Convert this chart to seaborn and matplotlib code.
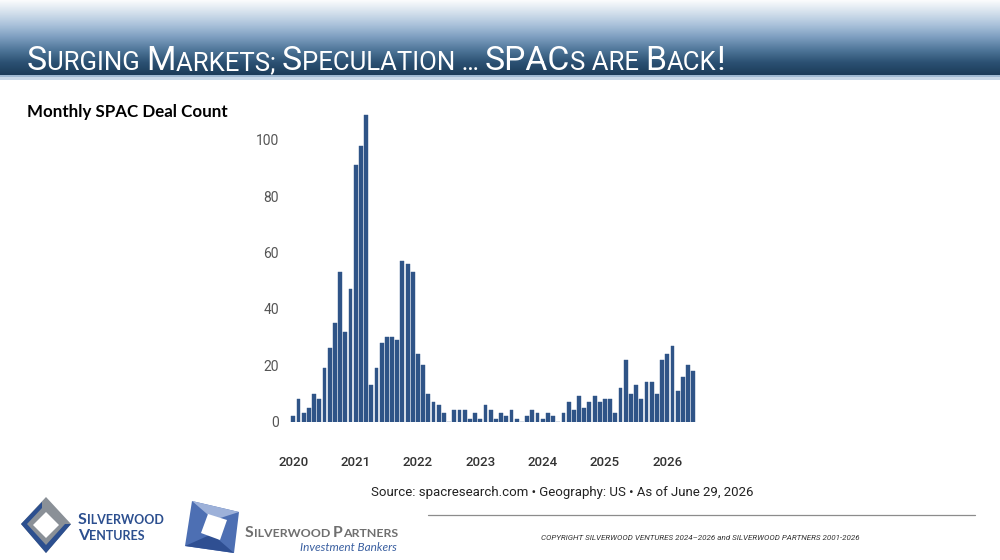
import numpy as np
import pandas as pd
import matplotlib
matplotlib.use("Agg")
import matplotlib.pyplot as plt
import seaborn as sns
from matplotlib.patches import Polygon, Rectangle

# Monthly SPAC deal counts, Jan 2020 .. Jun 2026
counts_2020 = [2, 8, 3, 5, 10, 8, 19, 26, 35, 53, 32, 47]
counts_2021 = [91, 98, 109, 13, 19, 28, 30, 30, 29, 57, 56, 53]
counts_2022 = [24, 20, 10, 7, 6, 3, 0, 4, 4, 4, 1, 3]
counts_2023 = [1, 6, 4, 1, 3, 2, 4, 1, 0, 2, 4, 3]
counts_2024 = [1, 3, 2, 0, 3, 7, 4, 9, 5, 7, 9, 7]
counts_2025 = [8, 8, 3, 12, 22, 10, 13, 8, 14, 14, 10, 22]
counts_2026 = [24, 27, 11, 16, 20, 18]

year_labels = ["2020", "2021", "2022", "2023", "2024", "2025", "2026"]
y_ticks = [0, 20, 40, 60, 80, 100]

counts = (counts_2020 + counts_2021 + counts_2022 + counts_2023
          + counts_2024 + counts_2025 + counts_2026)
months = pd.date_range("2020-01-01", periods=len(counts), freq="MS").strftime("%Y-%m")
df = pd.DataFrame({"month": months, "deals": counts})

sns.set_style("white")
plt.rcParams["font.family"] = ["Roboto", "DejaVu Sans"]

BAR = "#2f5487"

fig = plt.figure(figsize=(10, 5.6), dpi=100)

# overlay axes in pixel coordinates for the slide decoration
bg = fig.add_axes([0, 0, 1, 1])
bg.set_xlim(0, 1000)
bg.set_ylim(560, 0)
bg.axis("off")

# header gradient band
stops = ["#fbfcfd", "#d3e0ec", "#a9c1da", "#7c9dbf", "#4f7699", "#2c5173", "#1b3c59"]
cmap = matplotlib.colors.LinearSegmentedColormap.from_list("hdr", stops)
grad = np.linspace(0, 1, 200).reshape(-1, 1)
bg.imshow(grad, cmap=cmap, aspect="auto", extent=(0, 1000, 75, 0), zorder=0)
bg.add_patch(Rectangle((0, 75), 1000, 2, color="#9fb9d2", lw=0, zorder=1))
bg.add_patch(Rectangle((0, 77), 1000, 2.5, color="#c9d9e8", lw=0, zorder=1))

renderer = fig.canvas.get_renderer()


def small_caps(x, y, pieces, big, small, **kw):
    for txt, is_big in pieces:
        t = bg.text(x, y, txt, fontsize=big if is_big else small,
                    ha="left", va="baseline", **kw)
        x += t.get_window_extent(renderer).width
    return x


title_pieces = [("S", True), ("URGING ", False), ("M", True), ("ARKETS; ", False),
                ("S", True), ("PECULATION … ", False), ("SPAC", True),
                ("S ARE ", False), ("B", True), ("ACK", False), ("!", True)]
small_caps(27, 70, title_pieces, 24.3, 18.5, color="white")

bg.text(27, 117, "Monthly SPAC Deal Count", fontsize=12.2, fontweight="bold",
        family=["Lato", "DejaVu Sans"], color="black", va="baseline")

bg.text(562, 496, "Source: spacresearch.com \u2022 Geography: US \u2022 As of June 29, 2026",
        fontsize=9.5, color="#222222", ha="center", va="baseline")

bg.plot([428, 975], [515, 515], color="#8c8c8c", lw=0.9)
bg.text(700, 540, "COPYRIGHT SILVERWOOD VENTURES 2024\u20132026 and SILVERWOOD PARTNERS 2001-2026",
        fontsize=5.75, style="italic", color="#333333", ha="center", va="baseline")

# Silverwood Ventures logo
cx, cy = 46, 526
bg.add_patch(Polygon([(cx, cy - 29), (cx + 25, cy - 2), (cx, cy + 27), (cx - 25, cy - 2)],
                     closed=True, color="#8a9097", lw=0))
bg.add_patch(Polygon([(cx - 25, cy - 2), (cx - 4, cy - 24), (cx - 4, cy - 18), (cx - 19, cy - 2),
                      (cx, cy + 19), (cx + 19, cy - 2), (cx + 25, cy - 2), (cx, cy + 27)],
                     closed=True, color="#2c4f8f", lw=0))
bg.add_patch(Polygon([(cx, cy - 14), (cx + 13, cy - 1), (cx, cy + 12), (cx - 13, cy - 1)],
                     closed=True, color="white", lw=0))
logo_kw = dict(fontweight="bold", family=["Lato", "DejaVu Sans"], color="#2c4f8f")
small_caps(78, 524, [("S", True), ("ILVERWOOD", False)], 11.5, 9, **logo_kw)
small_caps(78, 540, [("V", True), ("ENTURES", False)], 11.5, 9, **logo_kw)

# Silverwood Partners logo
bg.add_patch(Polygon([(192, 501), (239, 512), (234, 553), (185, 546)],
                     closed=True, color="#4d6fb3", lw=0))
bg.add_patch(Polygon([(192, 501), (239, 512), (214, 520)],
                     closed=True, color="#9db1d9", lw=0))
bg.add_patch(Polygon([(185, 546), (234, 553), (212, 534)],
                     closed=True, color="#2f4f92", lw=0))
bg.add_patch(Polygon([(208, 514), (227, 520), (220, 540), (201, 533)],
                     closed=True, color="white", lw=0))
small_caps(245, 537, [("S", True), ("ILVERWOOD ", False), ("P", True), ("ARTNERS", False)],
           11.3, 8.9, fontweight="bold", family=["Lato", "DejaVu Sans"], color="#6f6f6f")
bg.text(397, 551, "Investment Bankers", fontsize=8.5, style="italic",
        family=["Lato", "DejaVu Sans"], color="#3a5fa0", ha="right", va="baseline")

# bar chart
ax = fig.add_axes([0.2902, 0.2470, 0.4062, 0.5634])
sns.barplot(data=df, x="month", y="deals", color=BAR, saturation=1, width=0.74,
            edgecolor=BAR, linewidth=0.3, ax=ax)
ax.set_xlim(-0.6, len(counts) - 0.4)
ax.set_ylim(0, 112)
ax.set_xticks(range(0, len(counts), 12))
ax.set_xticklabels(year_labels, fontsize=9.5, color="#333333", fontweight="medium")
ax.set_yticks(y_ticks)
ax.set_yticklabels([str(v) for v in y_ticks], fontsize=10, color="#555555")
ax.tick_params(axis="x", length=0, pad=25)
ax.tick_params(axis="y", length=0, pad=8)
ax.set_xlabel("")
ax.set_ylabel("")
for s in ax.spines.values():
    s.set_visible(False)
ax.patch.set_alpha(0)

fig.savefig("out.png", dpi=100)
